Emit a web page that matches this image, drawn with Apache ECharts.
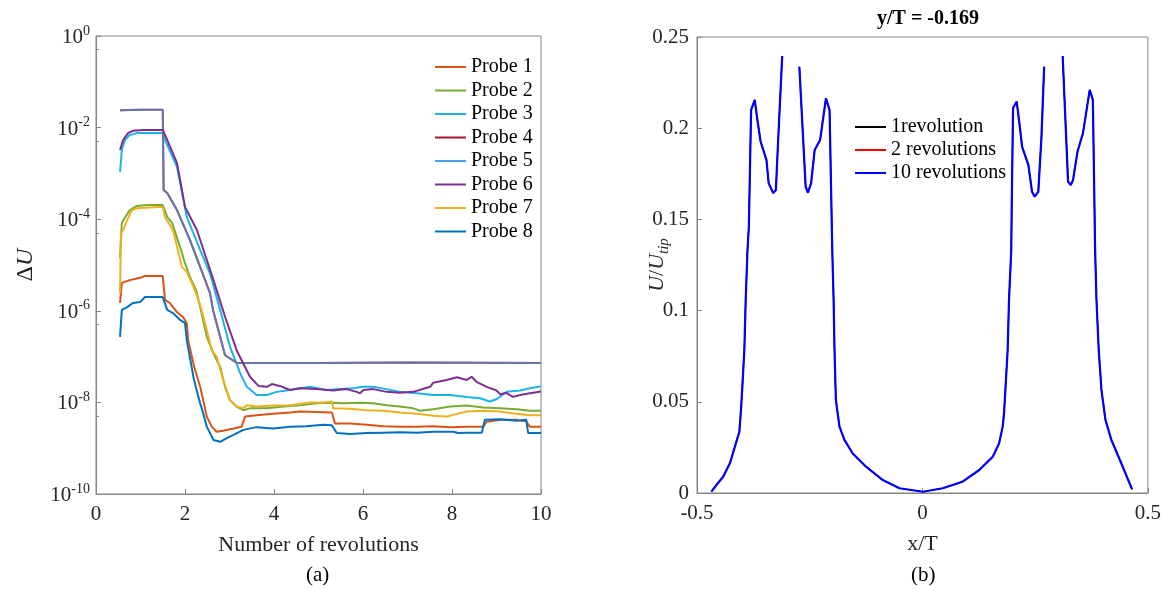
<!DOCTYPE html>
<html lang="en">
<head>
    <meta charset="UTF-8">
    <title>Probe convergence and velocity profile</title>
    <script src="https://cdn.jsdelivr.net/npm/echarts@6.0.0/dist/echarts.min.js"></script>
</head>
<body style="margin:0;background:#fff;">
<div id="main" style="width:1164px;height:590px;"></div>
<script type="text/javascript">
    // left panel: [revolutions, log10(ΔU)]
    var probe1 = [[0.54,-5.83],[0.58,-5.39],[0.76,-5.33],[0.99,-5.28],[1.1,-5.24],[1.5,-5.24],[1.55,-5.76],[1.66,-5.83],[1.82,-6.03],[1.96,-6.14],[2.04,-6.27],[2.07,-6.64],[2.2,-7.2],[2.34,-7.66],[2.41,-7.95],[2.49,-8.31],[2.60,-8.53],[2.71,-8.64],[2.86,-8.62],[3.09,-8.57],[3.27,-8.53],[3.35,-8.31],[3.61,-8.28],[3.98,-8.25],[4.36,-8.22],[4.58,-8.20],[4.96,-8.21],[5.30,-8.22],[5.37,-8.46],[5.71,-8.46],[6.08,-8.49],[6.46,-8.52],[6.83,-8.53],[7.21,-8.53],[7.58,-8.52],[7.96,-8.54],[8.33,-8.53],[8.70,-8.53],[8.78,-8.42],[9.08,-8.38],[9.45,-8.38],[9.67,-8.42],[9.75,-8.53],[10,-8.53]];
    var probe2 = [[0.54,-4.85],[0.58,-4.08],[0.65,-3.97],[0.76,-3.80],[0.92,-3.71],[1.15,-3.69],[1.5,-3.69],[1.6,-3.95],[1.71,-4.08],[1.89,-4.61],[2.0,-4.96],[2.11,-5.26],[2.25,-5.55],[2.34,-5.91],[2.49,-6.57],[2.64,-6.93],[2.79,-7.22],[2.90,-7.66],[3.01,-7.95],[3.16,-8.09],[3.31,-8.17],[3.46,-8.13],[3.84,-8.13],[4.21,-8.09],[4.58,-8.06],[4.96,-8.02],[5.33,-8.01],[5.56,-8.02],[5.93,-8.01],[6.23,-8.02],[6.53,-8.06],[6.83,-8.09],[7.13,-8.13],[7.28,-8.18],[7.58,-8.15],[7.96,-8.09],[8.33,-8.07],[8.70,-8.11],[9.08,-8.13],[9.45,-8.15],[9.75,-8.18],[10,-8.18]];
    var probe3 = [[0.54,-2.97],[0.58,-2.49],[0.65,-2.27],[0.76,-2.16],[0.92,-2.12],[1.5,-2.12],[1.55,-2.27],[1.82,-2.86],[2.04,-3.95],[2.34,-4.67],[2.56,-5.18],[2.79,-5.98],[3.01,-6.78],[3.24,-7.36],[3.39,-7.66],[3.61,-7.84],[3.84,-7.84],[4.06,-7.77],[4.36,-7.73],[4.58,-7.69],[4.81,-7.66],[5.18,-7.73],[5.48,-7.71],[5.78,-7.69],[6.01,-7.66],[6.23,-7.66],[6.53,-7.71],[6.83,-7.77],[7.21,-7.80],[7.58,-7.84],[7.96,-7.84],[8.33,-7.88],[8.63,-7.91],[8.85,-7.98],[9.00,-7.93],[9.23,-7.77],[9.53,-7.74],[9.75,-7.69],[10,-7.65]];
    var probe4 = [[0.54,-1.62],[1.0,-1.61],[1.5,-1.61],[1.52,-3.36],[1.6,-3.43],[1.82,-3.80],[2.11,-4.45],[2.34,-5.04],[2.56,-5.61],[2.63,-5.98],[2.90,-6.97],[3.17,-7.14],[5,-7.14],[7,-7.13],[10,-7.14]];
    var probe5 = [[0.54,-1.62],[1.0,-1.61],[1.5,-1.61],[1.52,-3.36],[1.6,-3.43],[1.82,-3.80],[2.11,-4.45],[2.34,-5.04],[2.56,-5.61],[2.63,-5.98],[2.90,-6.97],[3.17,-7.14],[5,-7.14],[7,-7.13],[10,-7.14]];
    var probe6 = [[0.54,-2.49],[0.61,-2.27],[0.72,-2.12],[0.83,-2.07],[1.06,-2.05],[1.5,-2.05],[1.6,-2.27],[1.82,-2.77],[2.0,-3.73],[2.27,-4.24],[2.34,-4.45],[2.64,-5.33],[2.90,-6.13],[3.16,-6.86],[3.46,-7.44],[3.65,-7.64],[3.84,-7.66],[3.95,-7.60],[4.13,-7.64],[4.36,-7.73],[4.58,-7.69],[4.96,-7.71],[5.33,-7.74],[5.63,-7.71],[5.86,-7.77],[5.93,-7.80],[6.01,-7.73],[6.23,-7.71],[6.53,-7.77],[6.83,-7.79],[7.13,-7.77],[7.51,-7.66],[7.58,-7.57],[7.88,-7.51],[8.11,-7.45],[8.33,-7.51],[8.44,-7.44],[8.55,-7.55],[8.78,-7.66],[9.00,-7.74],[9.08,-7.82],[9.22,-7.79],[9.37,-7.88],[9.53,-7.84],[9.75,-7.80],[10,-7.76]];
    var probe7 = [[0.54,-5.61],[0.56,-4.30],[0.61,-4.24],[0.70,-4.02],[0.81,-3.80],[0.92,-3.76],[1.5,-3.73],[1.55,-3.95],[1.73,-4.24],[1.93,-5.04],[2.04,-5.15],[2.2,-5.5],[2.34,-5.87],[2.49,-6.42],[2.60,-6.86],[2.71,-7.00],[2.86,-7.51],[3.01,-7.95],[3.16,-8.09],[3.31,-8.13],[3.39,-8.06],[3.61,-8.09],[3.98,-8.07],[4.36,-8.06],[4.81,-8.00],[5.11,-8.00],[5.30,-7.98],[5.33,-8.13],[5.71,-8.14],[6.08,-8.17],[6.46,-8.18],[6.83,-8.22],[7.21,-8.25],[7.58,-8.29],[7.88,-8.31],[8.11,-8.25],[8.33,-8.20],[8.70,-8.18],[9.08,-8.20],[9.38,-8.24],[9.75,-8.28],[10,-8.28]];
    var probe8 = [[0.54,-6.57],[0.58,-5.98],[0.70,-5.92],[0.83,-5.83],[0.99,-5.81],[1.1,-5.70],[1.5,-5.70],[1.6,-5.98],[1.73,-6.05],[1.89,-6.20],[2.0,-6.27],[2.04,-6.64],[2.2,-7.5],[2.34,-8.02],[2.41,-8.24],[2.49,-8.53],[2.64,-8.82],[2.79,-8.86],[2.94,-8.78],[3.09,-8.71],[3.31,-8.60],[3.35,-8.57],[3.61,-8.54],[3.98,-8.57],[4.36,-8.53],[4.73,-8.52],[5.11,-8.49],[5.30,-8.50],[5.41,-8.67],[5.71,-8.69],[6.08,-8.67],[6.46,-8.66],[6.83,-8.65],[7.21,-8.66],[7.58,-8.64],[8.03,-8.64],[8.14,-8.67],[8.33,-8.66],[8.67,-8.66],[8.74,-8.38],[9.08,-8.37],[9.45,-8.40],[9.67,-8.38],[9.71,-8.67],[10,-8.67]];
    var probeNames = ['Probe 1','Probe 2','Probe 3','Probe 4','Probe 5','Probe 6','Probe 7','Probe 8'];
    var probeColors = ['#D95319','#77AC30','#1DB3EA','#A2142F','#4D9FE0','#7E2F8E','#EDB120','#0072BD'];

    // right panel: [x/T, U/Utip], '-' = gap in the curve
    var profile = [[-0.468,0.0007],[-0.457,0.0044],[-0.442,0.0089],[-0.427,0.0163],[-0.416,0.0254],[-0.406,0.0336],[-0.402,0.0473],[-0.399,0.0601],[-0.395,0.0784],[-0.392,0.1058],[-0.388,0.1332],[-0.385,0.146],[-0.380,0.210],[-0.372,0.2155],[-0.366,0.2045],[-0.359,0.1927],[-0.346,0.1826],[-0.341,0.1698],[-0.331,0.1644],[-0.325,0.1661],[-0.320,0.1935],[-0.311,0.2396],[-0.292,'-'],[-0.273,0.2337],[-0.259,0.1679],[-0.254,0.1646],[-0.247,0.1698],[-0.239,0.1880],[-0.227,0.1935],[-0.214,0.2164],[-0.206,0.2100],[-0.200,0.1332],[-0.197,0.1058],[-0.195,0.0784],[-0.192,0.0510],[-0.188,0.0437],[-0.184,0.0364],[-0.173,0.0291],[-0.155,0.0218],[-0.125,0.0144],[-0.088,0.0071],[-0.051,0.0026],[0.001,0.0007],[0.045,0.0026],[0.089,0.0062],[0.126,0.0126],[0.156,0.0199],[0.170,0.0272],[0.178,0.0364],[0.181,0.0437],[0.189,0.0784],[0.192,0.1058],[0.197,0.1332],[0.198,0.157],[0.201,0.2111],[0.209,0.2146],[0.216,0.2008],[0.221,0.1899],[0.235,0.1798],[0.243,0.1652],[0.249,0.1625],[0.257,0.1652],[0.264,0.1954],[0.270,0.2337],[0.290,'-'],[0.311,0.2396],[0.323,0.1707],[0.329,0.1689],[0.334,0.1716],[0.344,0.1872],[0.356,0.1972],[0.371,0.2210],[0.378,0.2155],[0.383,0.1332],[0.386,0.1058],[0.391,0.0784],[0.397,0.0565],[0.406,0.0400],[0.419,0.0291],[0.441,0.0163],[0.465,0.0020]];
    var profileNames = ['1revolution','2 revolutions','10 revolutions'];
    var profileColors = ['#000000','#FF0000','#0000FF'];

    var font = 'Liberation Serif, Times New Roman, serif';
    var axisGrey = '#858585';
    var probes = [probe1, probe2, probe3, probe4, probe5, probe6, probe7, probe8];

    var series = [];
    probes.forEach(function (p, i) {
        series.push({
            name: probeNames[i],
            type: 'line',
            xAxisIndex: 0,
            yAxisIndex: 0,
            symbol: 'none',
            data: p.map(function (d) { return [d[0], Math.pow(10, d[1])]; }),
            // probe 5 sits on top of probe 4, let the red show through a bit
            lineStyle: {width: 2, color: probeColors[i], opacity: i === 4 ? 0.7 : 1},
            itemStyle: {color: probeColors[i]}
        });
    });
    profileNames.forEach(function (n, i) {
        series.push({
            name: n,
            type: 'line',
            xAxisIndex: 1,
            yAxisIndex: 1,
            symbol: 'none',
            connectNulls: false,
            data: profile,
            lineStyle: {width: i === 2 ? 2.2 : 1.2, color: profileColors[i]},
            itemStyle: {color: profileColors[i]}
        });
    });

    var legendText = {fontFamily: font, fontSize: 20, color: '#000', lineHeight: 20};

    var myChart = echarts.init(document.getElementById('main'));
    var option = {
        animation: false,
        textStyle: {fontFamily: font},
        title: {
            text: 'y/T = -0.169',
            left: 923,
            top: 4,
            textAlign: 'center',
            textStyle: {fontFamily: font, fontSize: 20, fontWeight: 'bold', color: '#000'}
        },
        legend: [{
            data: probeNames,
            orient: 'vertical',
            left: 430,
            top: 52,
            icon: 'rect',
            itemWidth: 31,
            itemHeight: 2,
            itemGap: 3.5,
            textStyle: legendText
        }, {
            data: profileNames,
            orient: 'vertical',
            left: 850,
            top: 112,
            icon: 'rect',
            itemWidth: 31,
            itemHeight: 2,
            itemGap: 3,
            textStyle: legendText
        }],
        grid: [
            {left: 96, top: 36, width: 445, height: 458, show: true, borderColor: axisGrey, borderWidth: 1},
            {left: 697, top: 37, width: 452, height: 456, show: true, borderColor: axisGrey, borderWidth: 1}
        ],
        xAxis: [{
            gridIndex: 0,
            type: 'value',
            min: 0,
            max: 10,
            interval: 2,
            name: 'Number of revolutions',
            nameLocation: 'middle',
            nameGap: 40,
            nameMoveOverlap: false,
            nameTextStyle: {fontFamily: font, fontSize: 22, color: '#262626'},
            axisLine: {onZero: false, lineStyle: {color: axisGrey}},
            axisTick: {inside: true, length: 5, lineStyle: {color: axisGrey}},
            axisLabel: {fontFamily: font, fontSize: 21, color: '#262626', margin: 10},
            splitLine: {show: false}
        }, {
            gridIndex: 1,
            type: 'value',
            min: -0.5,
            max: 0.5,
            interval: 0.5,
            name: 'x/T',
            nameLocation: 'middle',
            nameGap: 40,
            nameMoveOverlap: false,
            nameTextStyle: {fontFamily: font, fontSize: 22, color: '#262626'},
            axisLine: {onZero: false, lineStyle: {color: axisGrey}},
            axisTick: {inside: true, length: 5, lineStyle: {color: axisGrey}},
            axisLabel: {fontFamily: font, fontSize: 21, color: '#262626', margin: 10},
            splitLine: {show: false}
        }],
        yAxis: [{
            gridIndex: 0,
            type: 'log',
            logBase: 10,
            min: 1e-10,
            max: 1,
            interval: 2,
            name: '{d|Δ}{u|U}',
            nameLocation: 'middle',
            nameGap: 58,
            nameMoveOverlap: false,
            nameTextStyle: {
                rich: {
                    d: {fontFamily: font, fontSize: 24, color: '#262626'},
                    u: {fontFamily: font, fontSize: 24, fontStyle: 'italic', color: '#262626'}
                }
            },
            axisLine: {onZero: false, lineStyle: {color: axisGrey}},
            axisTick: {inside: true, length: 5, lineStyle: {color: axisGrey}},
            minorTick: {show: true, splitNumber: 2, length: 3, lineStyle: {color: axisGrey}},
            axisLabel: {
                margin: 6,
                formatter: function (v) {
                    var e = Math.round(Math.log(v) / Math.LN10);
                    return '{b|10}{s|' + e + '}';
                },
                rich: {
                    b: {fontFamily: font, fontSize: 21, color: '#262626', lineHeight: 24, verticalAlign: 'bottom'},
                    s: {fontFamily: font, fontSize: 14, color: '#262626', lineHeight: 14, verticalAlign: 'top'}
                }
            },
            splitLine: {show: false}
        }, {
            gridIndex: 1,
            type: 'value',
            min: 0,
            max: 0.25,
            interval: 0.05,
            name: '{i|U}{n|/}{i|U}{s|tip}',
            nameLocation: 'middle',
            nameGap: 25,
            nameMoveOverlap: false,
            nameTextStyle: {
                rich: {
                    i: {fontFamily: font, fontSize: 22, fontStyle: 'italic', color: '#262626', lineHeight: 26, verticalAlign: 'top'},
                    n: {fontFamily: font, fontSize: 22, color: '#262626', lineHeight: 26, verticalAlign: 'top'},
                    s: {fontFamily: font, fontSize: 15, fontStyle: 'italic', color: '#262626', lineHeight: 14, verticalAlign: 'bottom'}
                }
            },
            axisLine: {onZero: false, lineStyle: {color: axisGrey}},
            axisTick: {inside: true, length: 5, lineStyle: {color: axisGrey}},
            axisLabel: {fontFamily: font, fontSize: 21, color: '#262626', margin: 8},
            splitLine: {show: false}
        }],
        graphic: [
            {type: 'text', left: 306, top: 565, style: {text: '(a)', font: '21px ' + font, fill: '#000'}},
            {type: 'text', left: 911, top: 565, style: {text: '(b)', font: '21px ' + font, fill: '#000'}}
        ],
        series: series
    };
    myChart.setOption(option);
</script>
</body>
</html>
